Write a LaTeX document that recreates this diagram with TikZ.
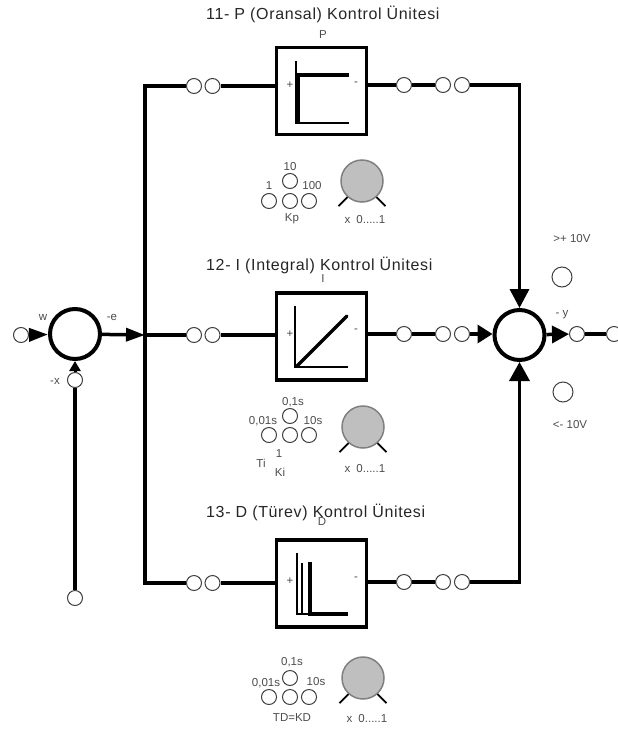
\documentclass[tikz,border=0pt]{standalone}
\usepackage{fontspec}
\setmainfont{Liberation Sans}
\newfontfamily\titlefont[LetterSpace=4]{Liberation Sans}
\usetikzlibrary{arrows.meta,positioning,calc}

\begin{document}
\begin{tikzpicture}[
    x=1pt, y=-1pt,
    blockbox/.style={rectangle, draw=black, fill=white, line width=3.5pt, minimum width=90pt, minimum height=87pt, inner sep=0pt},
    sumnode/.style={circle, draw=black, fill=white, line width=4pt, minimum size=50pt, inner sep=0pt},
    term/.style={circle, draw=black!75, fill=white, line width=1pt, minimum size=15pt, inner sep=0pt},
    lamp/.style={circle, draw=black!75, fill=white, line width=1pt, minimum size=20pt, inner sep=0pt},
    knob/.style={circle, draw=black!50, fill=black!25, line width=1.5pt, minimum size=42pt, inner sep=0pt},
    title/.style={anchor=west, inner sep=0pt, font=\titlefont\fontsize{16}{18}\selectfont, text=black!85},
    label/.style={font=\fontsize{11.5}{13}\selectfont, text=black!70, inner sep=0pt},
    wire/.style={line width=3.5pt},
    bus/.style={line width=4.5pt},
    tick/.style={line width=1.8pt},
    arrowbig/.style={-{Triangle[length=19pt, width=19pt]}, line width=3.5pt},
    arrowsmall/.style={-{Triangle[length=19pt, width=13pt]}, line width=3.5pt}
]
\useasboundingbox (0, 0) rectangle (618, 731);

% Titles
\node[title] (titleP) at (206, 14) {11- P (Oransal) Kontrol Ünitesi};
\node[title] (titleI) at (206, 265) {12- I (Integral) Kontrol Ünitesi};
\node[title] (titleD) at (206, 512.5) {13- D (Türev) Kontrol Ünitesi};

% Left summing point
\node[sumnode] (sumL) at (75, 334) {};
\node[term] (tw) at (21, 335) {};
\node[term] (tx) at (75, 380) {};
\node[term] (tb) at (75, 598) {};
\node[label] (lw) at (43, 317) {w};
\node[label] (le) at (112, 317) {-e};
\node[label] (lx) at (55, 381) {-x};
\coordinate (junc) at (145, 335);
\draw[arrowsmall] (tw) -- (sumL);
\draw[arrowsmall] (sumL) -- (junc);
\draw[wire] (tb) -- (tx);
\draw[-{Triangle[length=10pt, width=11pt]}, line width=3pt] (tx) -- (sumL);

% Right summing point
\node[sumnode] (sumR) at (519.5, 335) {};
\coordinate (rightP) at (519.5, 85);
\coordinate (rightD) at (519.5, 582);
\node[term] (ty1) at (577, 334) {};
\node[term] (ty2) at (614, 334) {};
\node[lamp] (hi) at (562, 277) {};
\node[lamp] (lo) at (563, 392) {};
\node[label] (lhi) at (572, 239) {>+ 10V};
\node[label] (ly) at (562, 315) {- y};
\node[label] (llo) at (570, 425) {<- 10V};
\draw[-{Triangle[length=17pt, width=17pt]}, line width=3.5pt] (sumR) -- (ty1);
\draw[wire] (ty1) -- (ty2);

% P row
\node[blockbox] (boxP) at (321.5, 91) {};
\node[term] (p1) at (194, 86) {};
\node[term] (p2) at (212.5, 86) {};
\node[term] (p3) at (404, 85) {};
\node[term] (p4) at (443, 85) {};
\node[term] (p5) at (462, 85) {};
\coordinate (busP) at (145, 86);
\node[label] at (323, 35) (nameP) {P};
\node[label] at (290, 85) (plusP) {+};
\node[label] at (356, 84) (minusP) {-};
\draw[line width=1.8pt] (296, 61) -- (296, 123) -- (349, 123);
\draw[line width=3.5pt] (298, 123) -- (298, 75) -- (349, 75);
\draw[wire] (p2) -- (boxP.west |- p2);
\draw[wire] (boxP.east |- p3) -- (p3);
\draw[wire] (p3) -- (p4);
\draw[arrowbig] (p5) -- (rightP) -- (sumR);

% P settings
\node[term] (pk10) at (290, 181) {};
\node[term] (pk1) at (269, 201) {};
\node[term] (pk2) at (290, 201) {};
\node[term] (pk100) at (309, 201) {};
\node[label] (l10) at (290, 167) {10};
\node[label] (l1) at (269, 186) {1};
\node[label] (l100) at (312, 186) {100};
\node[label] (lkp) at (292, 219) {Kp};
\node[knob] (knobP) at (362, 181) {};
\draw[tick] (knobP.228) -- ++(-9, 9);
\draw[tick] (knobP.312) -- ++(9, 9);
\node[label] (rangeP) at (365, 220) {x\hspace{6pt}0.....1};

% I row
\node[blockbox] (boxI) at (321.5, 336.5) {};
\node[term] (i1) at (194, 335) {};
\node[term] (i2) at (212.5, 335) {};
\node[term] (i3) at (404, 334) {};
\node[term] (i4) at (443, 334) {};
\node[term] (i5) at (462, 334) {};
\node[label] (nameI) at (323, 279) {I};
\node[label] (plusI) at (290, 334) {+};
\node[label] (minusI) at (356, 331) {-};
\draw[line width=1.8pt] (295, 306) -- (295, 367) -- (348, 367);
\draw[line width=3.5pt, line cap=round] (297, 366) -- (347, 316);
\draw[wire] (junc) -- (i1);
\draw[wire] (i2) -- (boxI.west |- i2);
\draw[wire] (boxI.east |- i3) -- (i3);
\draw[wire] (i3) -- (i4);
\draw[-{Triangle[length=15pt, width=18pt]}, line width=3.5pt] (i5) -- (i5 -| sumR.west);

% I settings
\node[term] (ik1) at (290, 416) {};
\node[term] (ik2) at (269, 435) {};
\node[term] (ik3) at (290, 435) {};
\node[term] (ik4) at (309, 435) {};
\node[label] (l01) at (293, 402) {0,1s};
\node[label] (l001) at (263, 421) {0,01s};
\node[label] (l10s) at (313, 421) {10s};
\node[label] (lone) at (279, 454) {1};
\node[label] (lti) at (261, 463) {Ti};
\node[label] (lki) at (280, 472) {Ki};
\node[knob] (knobI) at (363, 427) {};
\draw[tick] (knobI.228) -- ++(-9, 9);
\draw[tick] (knobI.312) -- ++(9, 9);
\node[label] (rangeI) at (365, 469) {x\hspace{6pt}0.....1};

% D row
\node[blockbox] (boxD) at (321.5, 583.5) {};
\node[term] (d1) at (194, 583) {};
\node[term] (d2) at (212.5, 583) {};
\node[term] (d3) at (404, 582) {};
\node[term] (d4) at (443, 582) {};
\node[term] (d5) at (462, 582) {};
\coordinate (busD) at (145, 583);
\node[label] (nameD) at (322, 522) {D};
\node[label] (plusD) at (290, 581) {+};
\node[label] (minusD) at (356, 579) {-};
\draw[line width=1.5pt] (297, 553) -- (297, 614) -- (310, 614);
\draw[line width=2pt] (302, 563) -- (302, 614);
\draw[line width=3.5pt] (310, 562) -- (310, 614) -- (348, 614);
\draw[wire] (d2) -- (boxD.west |- d2);
\draw[wire] (boxD.east |- d3) -- (d3);
\draw[wire] (d3) -- (d4);
\draw[-{Triangle[length=19pt, width=20pt]}, line width=3.5pt] (d5) -- (rightD) -- (sumR);

% D settings
\node[term] (dk1) at (290, 678) {};
\node[term] (dk2) at (269, 697) {};
\node[term] (dk3) at (290, 697) {};
\node[term] (dk4) at (309, 697) {};
\node[label] (d01) at (292, 662) {0,1s};
\node[label] (d001) at (266, 683) {0,01s};
\node[label] (d10s) at (316, 682) {10s};
\node[label] (ltd) at (292, 718) {TD=KD};
\node[knob] (knobD) at (363, 678) {};
\draw[tick] (knobD.228) -- ++(-9, 9);
\draw[tick] (knobD.312) -- ++(9, 9);
\node[label] (rangeD) at (367, 719) {x\hspace{6pt}0.....1};

% Main bus
\draw[bus] (p1) -- (busP) -- (busD) -- (d1);

\end{tikzpicture}
\end{document}
